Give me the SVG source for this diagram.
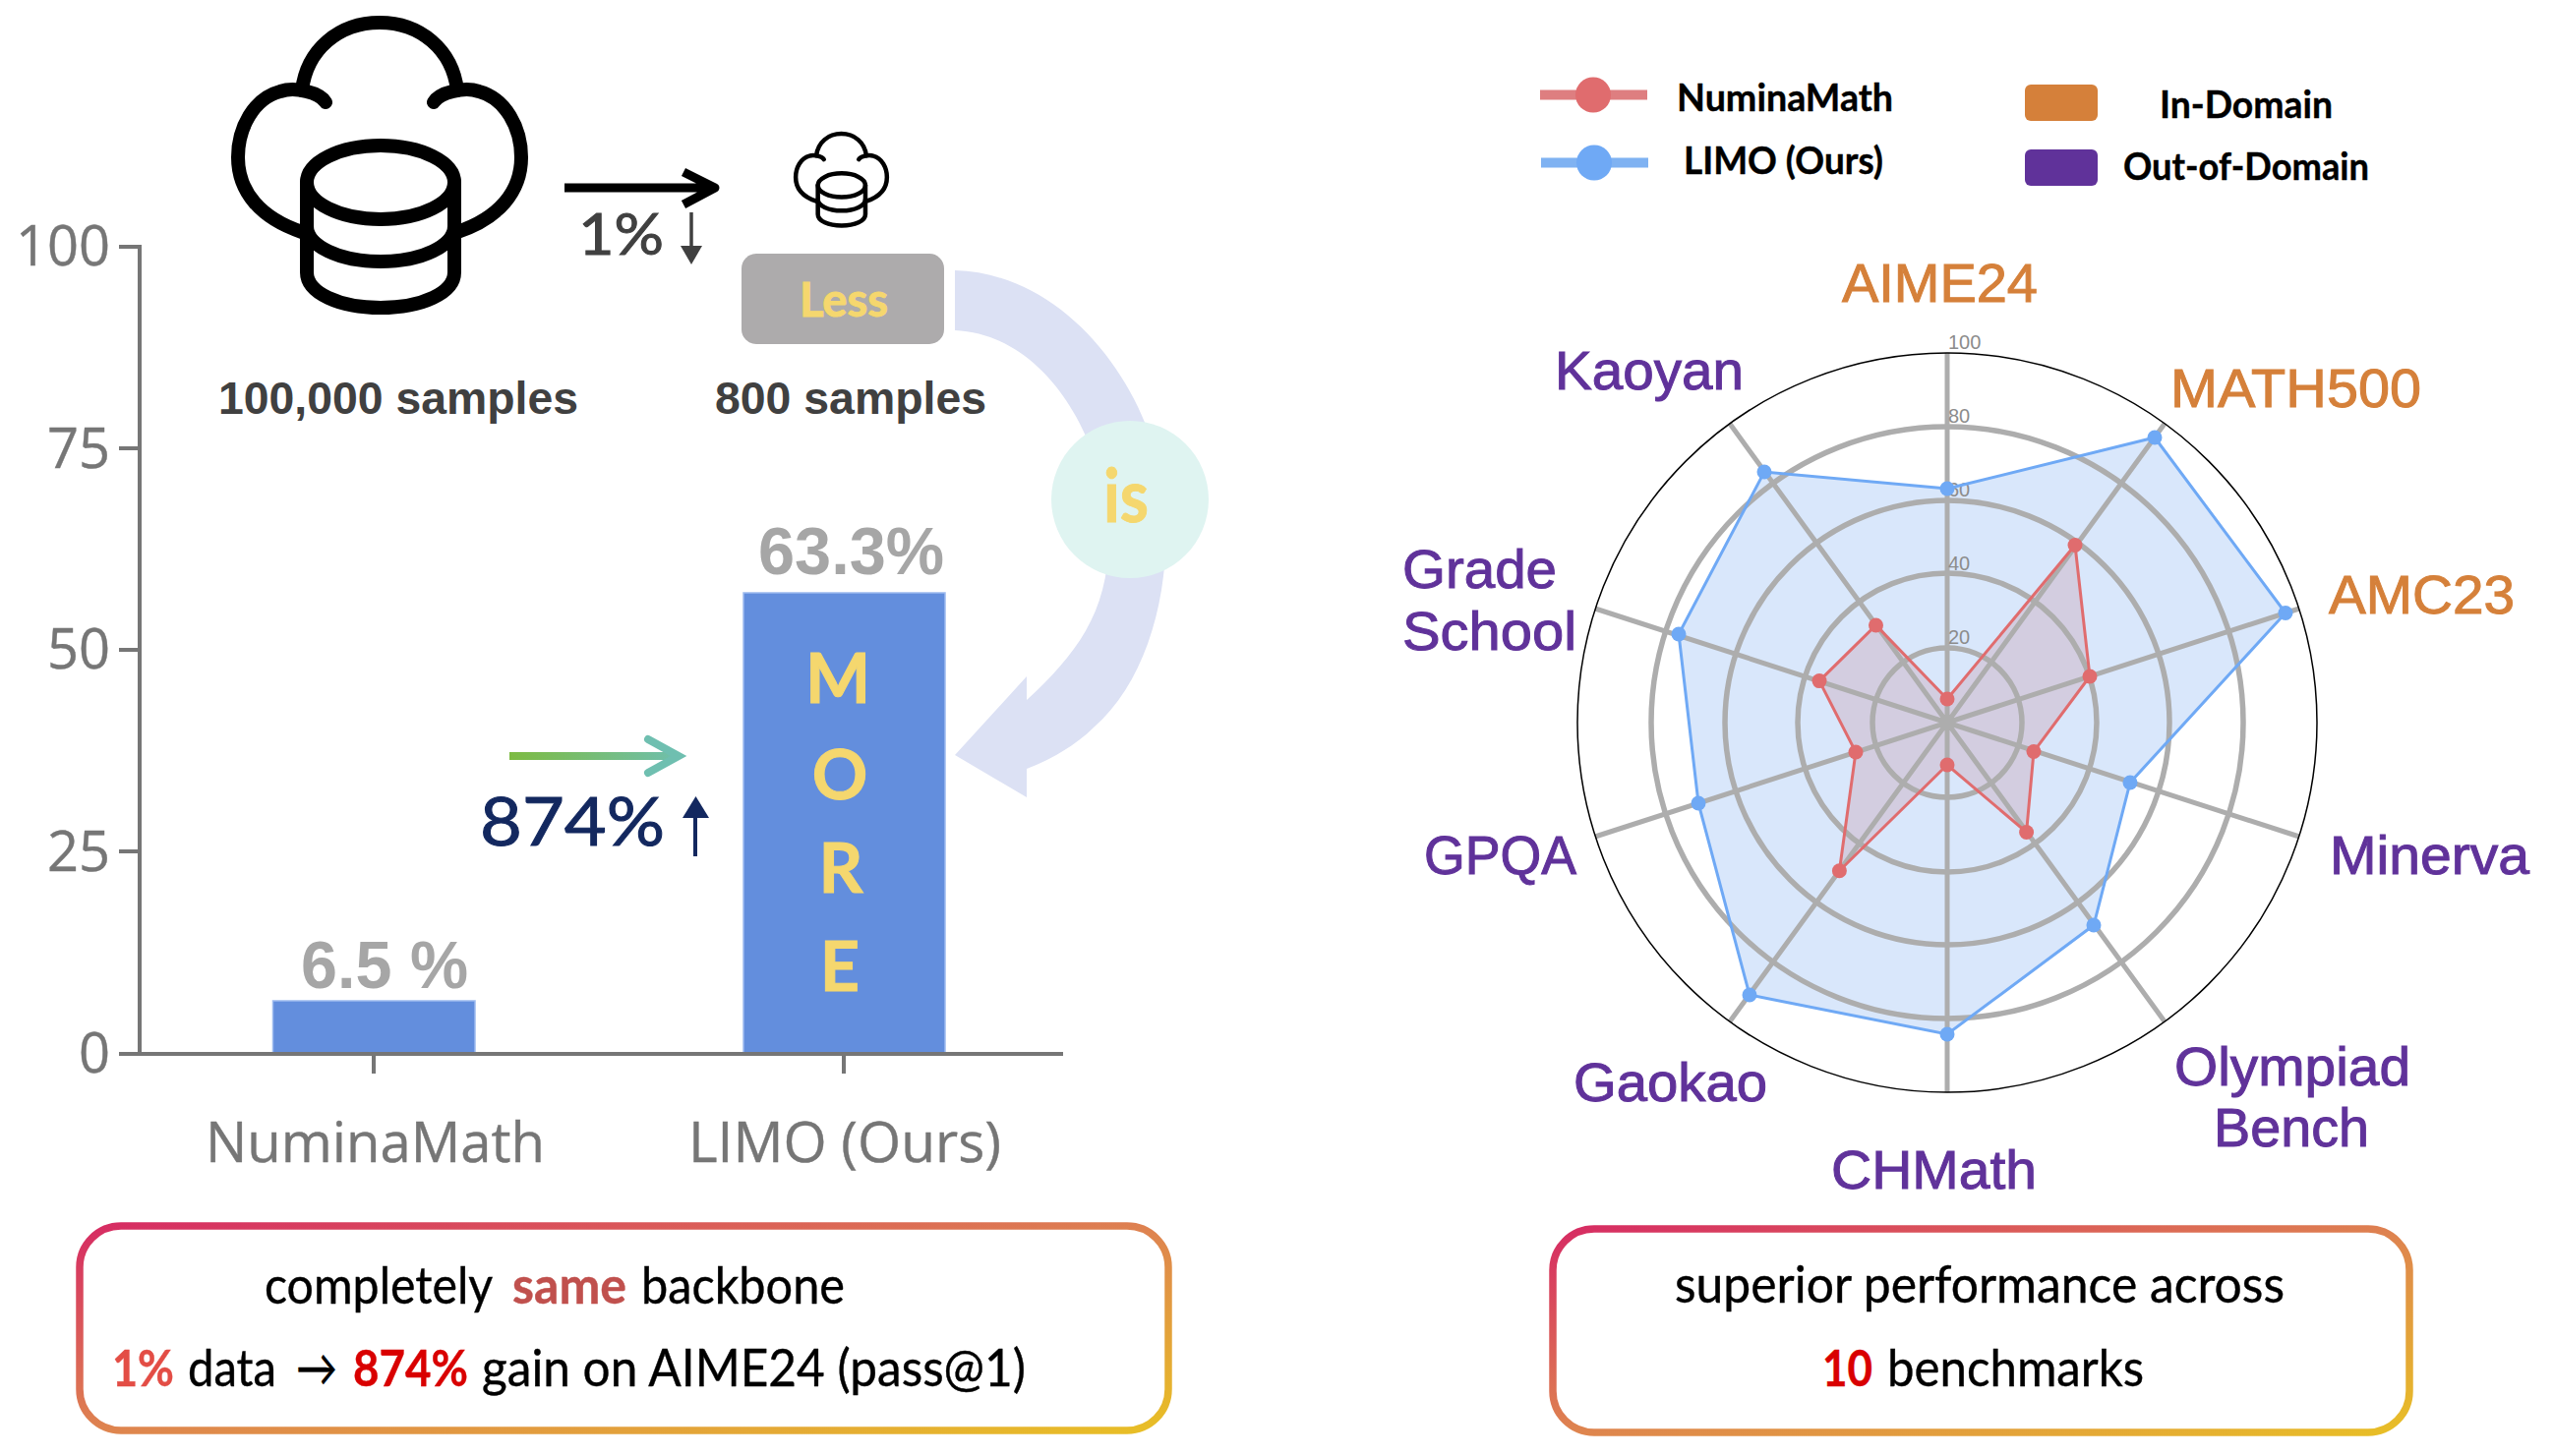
<svg xmlns="http://www.w3.org/2000/svg" width="2596" height="1481" viewBox="0 0 2596 1481">
<style>
text{font-family:"Lato","Liberation Sans",sans-serif}
.tick,.cat{font-family:"Open Sans","Liberation Sans",sans-serif;fill:#767676;font-size:56px;stroke:#767676;stroke-width:.4}
.tick{text-anchor:end}
.axis{stroke:#767676;stroke-width:4;fill:none}
.bar{fill:#638EDD;stroke:#9DBBEF;stroke-width:1.5}
.sample{font-family:"Liberation Sans",sans-serif;font-weight:700;font-size:46px;fill:#404040}
.val{font-family:"Liberation Sans",sans-serif;font-weight:700;font-size:68px;fill:#A6A6A6}
.gold{fill:#F5D76E;stroke:#F5D76E;stroke-width:1;font-weight:700}
.more{font-size:70px;text-anchor:middle}
.ink{fill:#000;stroke:#000;stroke-width:.4;font-size:52px}
.cap{font-weight:700}
.leg{font-size:39px;font-weight:700;fill:#000;stroke:#000;stroke-width:.4}
.in{font-family:"Liberation Sans",sans-serif;font-size:55px;fill:#D5803A;stroke:#D5803A;stroke-width:1}
.out{font-family:"Liberation Sans",sans-serif;font-size:55px;fill:#60329A;stroke:#60329A;stroke-width:1}
.rt{font-family:"Liberation Sans",sans-serif;font-size:20px;fill:#8C8C8C}
.ring{fill:none;stroke:#ADADAD;stroke-width:5.5}
.spoke{stroke:#ADADAD;stroke-width:5}
.db{fill:none;stroke:#000;stroke-width:14;stroke-linecap:round}
.box{fill:#fff;stroke-width:7.500;stroke:url(#gb)}
</style>
<defs>
<linearGradient id="gb" x1="0" y1="0" x2="1" y2="1"><stop offset="0" stop-color="#D62B63"/><stop offset=".5" stop-color="#DE8350"/><stop offset="1" stop-color="#E8BF26"/></linearGradient>
<linearGradient id="ga" gradientUnits="userSpaceOnUse" x1="518" y1="769" x2="695" y2="769"><stop offset="0" stop-color="#7DBB42"/><stop offset="1" stop-color="#6FBFB0"/></linearGradient>
<g id="cloud-db" class="db">
<path d="M307 92C312 50 345 23 386 23C427 23 460 50 465 92"/>
<path d="M331 104C325 94 300 88 285 93C258 100 242 130 242 160C242 195 265 222 307 236"/>
<path d="M441 104C447 94 472 88 487 93C514 100 530 130 530 160C530 195 507 222 465 236"/>
<ellipse cx="387" cy="185.500" rx="75" ry="37.500"/>
<path d="M312 185V277C312 298 345 313 387 313C429 313 462 298 462 277V185"/>
<path d="M312 230C312 250 345 266 387 266C429 266 462 250 462 230"/>
</g>
</defs>
<rect width="2596" height="1481" fill="#fff"/>

<g id="bar-chart">
<path class="axis" d="M121 251H142V1072M121 456H142M121 661H142M121 866H142"/>
<path d="M277.500 1018H483V1072H277.500Z" class="bar"/>
<path d="M756 603H961V1072H756Z" class="bar"/>
<path class="axis" stroke-width="5" d="M121 1072H1081M380 1072V1092M858 1072V1092"/>
<text class="tick" x="112" y="270">100</text>
<text class="tick" x="112" y="476">75</text>
<text class="tick" x="112" y="680">50</text>
<text class="tick" x="112" y="886">25</text>
<text class="tick" x="112" y="1091">0</text>
<text class="cat" x="209" y="1182" textLength="345" lengthAdjust="spacingAndGlyphs">NuminaMath</text>
<text class="cat" x="700" y="1182" textLength="318" lengthAdjust="spacingAndGlyphs">LIMO (Ours)</text>
<text class="val" x="306" y="1005" textLength="170" lengthAdjust="spacingAndGlyphs">6.5 %</text>
<text class="val" x="771" y="584" textLength="189" lengthAdjust="spacingAndGlyphs">63.3%</text>
<text class="gold more" x="852" y="715">M</text>
<text class="gold more" x="854" y="813">O</text>
<text class="gold more" x="855" y="908">R</text>
<text class="gold more" x="854" y="1008">E</text>
</g>

<g id="connectors">
<path d="M971 275C1085 278 1170 395 1183 500C1194 590 1170 690 1112 740C1095 757 1070 772 1044 782L1044 811L971 768L1044 688L1044 712C1095 665 1130 620 1127 540C1124 450 1065 340 971 336Z" fill="#DCE1F4"/>
<path d="M574 191H724M695 175L727 191L695 208" fill="none" stroke="#000" stroke-width="9" stroke-linejoin="round"/>
<path d="M703 216V252" stroke="#404040" stroke-width="3.500"/>
<path d="M692 250H714L703 269Z" fill="#404040"/>
<path d="M518 769H686" stroke="url(#ga)" stroke-width="8" fill="none"/>
<path d="M659 752L690 769L659 786" stroke="#6FBFB0" stroke-width="8" fill="none" stroke-linecap="round"/>
<path d="M707 830V871" stroke="#13285F" stroke-width="4"/>
<path d="M694 832H721L707.500 810Z" fill="#13285F"/>
</g>

<g id="large-dataset">
<use href="#cloud-db"/>
<text class="sample" x="222" y="421" textLength="366" lengthAdjust="spacingAndGlyphs">100,000 samples</text>
</g>
<g id="small-dataset">
<use href="#cloud-db" transform="translate(731.200 128.700) scale(.322)"/>
<text class="sample" x="727" y="421" textLength="276" lengthAdjust="spacingAndGlyphs">800 samples</text>
</g>
<g id="one-percent"><text x="588" y="259" font-family="Open Sans" font-size="58" fill="#404040" stroke="#404040" textLength="87" lengthAdjust="spacingAndGlyphs">1%</text></g>
<g id="less">
<rect x="754" y="258" width="206" height="92" rx="15" fill="#ADABAC"/>
<text class="gold" x="813" y="322" font-size="48" textLength="90" lengthAdjust="spacingAndGlyphs">Less</text>
</g>
<g id="is">
<circle cx="1149" cy="508" r="80" fill="#DFF4F1"/>
<text class="gold" x="1122" y="531" font-size="74" textLength="46" lengthAdjust="spacingAndGlyphs">is</text>
</g>
<g id="gain"><text x="488" y="860" font-family="Open Sans" font-size="68" fill="#13285F" stroke="#13285F" textLength="188" lengthAdjust="spacingAndGlyphs">874%</text></g>

<g id="note-left">
<rect class="box" x="81" y="1247" width="1107" height="208" rx="42"/>
<text class="ink" x="269" y="1326"><tspan x="269" textLength="231" lengthAdjust="spacingAndGlyphs">completely</tspan> <tspan class="cap" x="521" fill="#C0504D" stroke="#C0504D" textLength="116" lengthAdjust="spacingAndGlyphs">same</tspan> <tspan x="652" textLength="207" lengthAdjust="spacingAndGlyphs">backbone</tspan></text>
<text class="ink" x="114" y="1410"><tspan x="114" class="cap" fill="#E34D45" stroke="#E34D45" textLength="63" lengthAdjust="spacingAndGlyphs">1%</tspan> <tspan x="191" textLength="90" lengthAdjust="spacingAndGlyphs">data</tspan> <tspan x="301" textLength="42" lengthAdjust="spacingAndGlyphs">→</tspan> <tspan class="cap" x="359" fill="#D90000" stroke="#D90000" textLength="117" lengthAdjust="spacingAndGlyphs">874%</tspan> <tspan x="490" textLength="553" lengthAdjust="spacingAndGlyphs">gain on AIME24 (pass@1)</tspan></text>
</g>

<g id="legend">
<path d="M1566 96.500H1675" stroke="#DE7E80" stroke-width="10"/>
<circle cx="1620" cy="96.500" r="18" fill="#E06C6E"/>
<path d="M1567 165.500H1676" stroke="#7FB2F2" stroke-width="10"/>
<circle cx="1621" cy="165.500" r="18" fill="#6FA9F5"/>
<text class="leg" x="1705" y="113" textLength="220" lengthAdjust="spacingAndGlyphs">NuminaMath</text>
<text class="leg" x="1712" y="177" textLength="203" lengthAdjust="spacingAndGlyphs">LIMO (Ours)</text>
<rect x="2059" y="86" width="74" height="37" rx="6" fill="#D5803A"/>
<rect x="2059" y="152" width="74" height="37" rx="6" fill="#60329A"/>
<text class="leg" x="2196" y="120" textLength="176" lengthAdjust="spacingAndGlyphs">In-Domain</text>
<text class="leg" x="2159" y="183" textLength="250" lengthAdjust="spacingAndGlyphs">Out-of-Domain</text>
</g>

<g id="radar">
<polygon fill="#D9E7FB" points="1980,497 2191,445 2324,623.500 2166,796 2129,941 1980,1052 1779,1012 1727,817 1707,645 1794,480"/>
<polygon fill="#D3CDE0" points="1980,711 2110,554.500 2125,688 2068,764.500 2060.600,846.500 1980,778 1870.400,885.700 1887,765 1850,692.600 1907.500,636"/>
<circle cx="1980" cy="735" r="76" class="ring"/>
<circle cx="1980" cy="735" r="152" class="ring"/>
<circle cx="1980" cy="735" r="226" class="ring"/>
<circle cx="1980" cy="735" r="301" class="ring"/>
<path class="spoke" d="M1980 359V1111M2201 431L1759 1039M2338 619L1622 851M2338 851L1622 619M2201 1039L1759 431"/>
<circle cx="1980" cy="735" r="376" fill="none" stroke="#000" stroke-width="1.500"/>
<text class="rt" x="1981" y="355">100</text>
<text class="rt" x="1981" y="430">80</text>
<text class="rt" x="1981" y="505">60</text>
<text class="rt" x="1981" y="580">40</text>
<text class="rt" x="1981" y="655">20</text>
<polygon fill="none" stroke="#6FA9F5" stroke-width="3" points="1980,497 2191,445 2324,623.500 2166,796 2129,941 1980,1052 1779,1012 1727,817 1707,645 1794,480"/>
<polygon fill="none" stroke="#E06C6E" stroke-width="3" points="1980,711 2110,554.500 2125,688 2068,764.500 2060.600,846.500 1980,778 1870.400,885.700 1887,765 1850,692.600 1907.500,636"/>
<g fill="#6FA9F5">
<circle cx="1980" cy="497" r="7.500"/><circle cx="2191" cy="445" r="7.500"/><circle cx="2324" cy="623.500" r="7.500"/><circle cx="2166" cy="796" r="7.500"/><circle cx="2129" cy="941" r="7.500"/><circle cx="1980" cy="1052" r="7.500"/><circle cx="1779" cy="1012" r="7.500"/><circle cx="1727" cy="817" r="7.500"/><circle cx="1707" cy="645" r="7.500"/><circle cx="1794" cy="480" r="7.500"/>
</g>
<g fill="#E06C6E">
<circle cx="1980" cy="711" r="7.500"/><circle cx="2110" cy="554.500" r="7.500"/><circle cx="2125" cy="688" r="7.500"/><circle cx="2068" cy="764.500" r="7.500"/><circle cx="2060.600" cy="846.500" r="7.500"/><circle cx="1980" cy="778" r="7.500"/><circle cx="1870.400" cy="885.700" r="7.500"/><circle cx="1887" cy="765" r="7.500"/><circle cx="1850" cy="692.600" r="7.500"/><circle cx="1907.500" cy="636" r="7.500"/>
</g>
<text class="in" x="1873" y="307" textLength="199" lengthAdjust="spacingAndGlyphs">AIME24</text>
<text class="in" x="2207" y="414" textLength="255" lengthAdjust="spacingAndGlyphs">MATH500</text>
<text class="in" x="2368" y="624" textLength="189" lengthAdjust="spacingAndGlyphs">AMC23</text>
<text class="out" x="2369" y="889" textLength="203" lengthAdjust="spacingAndGlyphs">Minerva</text>
<text class="out" x="2211" y="1104" textLength="240" lengthAdjust="spacingAndGlyphs">Olympiad</text>
<text class="out" x="2251" y="1166" textLength="158" lengthAdjust="spacingAndGlyphs">Bench</text>
<text class="out" x="1862" y="1209" textLength="209" lengthAdjust="spacingAndGlyphs">CHMath</text>
<text class="out" x="1600" y="1120" textLength="197" lengthAdjust="spacingAndGlyphs">Gaokao</text>
<text class="out" x="1448" y="889" textLength="155" lengthAdjust="spacingAndGlyphs">GPQA</text>
<text class="out" x="1426" y="598" textLength="157" lengthAdjust="spacingAndGlyphs">Grade</text>
<text class="out" x="1426" y="661" textLength="177" lengthAdjust="spacingAndGlyphs">School</text>
<text class="out" x="1581" y="396" textLength="192" lengthAdjust="spacingAndGlyphs">Kaoyan</text>
</g>

<g id="note-right">
<rect class="box" x="1579" y="1250" width="871" height="207" rx="42"/>
<text class="ink" x="1703" y="1325" textLength="620" lengthAdjust="spacingAndGlyphs">superior performance across</text>
<text class="ink" x="1853" y="1410"><tspan class="cap" x="1853" fill="#D90000" stroke="#D90000" textLength="51" lengthAdjust="spacingAndGlyphs">10</tspan> <tspan x="1919" textLength="261" lengthAdjust="spacingAndGlyphs">benchmarks</tspan></text>
</g>
</svg>
